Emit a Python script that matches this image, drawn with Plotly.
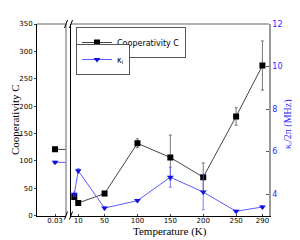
import plotly.graph_objects as go

# Data
temps = [0.03, 4, 10, 50, 100, 150, 200, 250, 290]
coop = [121, 34, 23, 40, 132, 106, 70, 181, 274]
coop_err = [4, 5, 3, 4, 8, 41, 26, 16, 45]
kappa = [5.5, 4.0, 5.1, 3.35, 3.7, 4.8, 4.1, 3.2, 3.4]
kappa_err = [0.05, 0.1, 0.1, 0.05, 0.05, 0.47, 0.83, 0.05, 0.05]
right_xticks = [10, 50, 100, 150, 200, 250, 290]

BLACK_LINE = "#444444"
BLUE_LINE = "#5a5aff"
BLUE = "#1010e0"

fig = go.Figure()

# left panel (broken axis, 0.03 K) -- include next point so connecting line leaves panel
fig.add_trace(go.Scatter(
    x=temps[:2], y=coop[:2], xaxis="x", yaxis="y",
    mode="lines+markers", line=dict(color=BLACK_LINE, width=1),
    marker=dict(symbol="square", size=6, color="black"),
    error_y=dict(type="data", array=coop_err[:2], color="#555", thickness=0.8, width=1.5),
    showlegend=False))
fig.add_trace(go.Scatter(
    x=temps[:2], y=kappa[:2], xaxis="x", yaxis="y3",
    mode="lines+markers", line=dict(color=BLUE_LINE, width=1),
    marker=dict(symbol="triangle-down", size=6, color=BLUE),
    error_y=dict(type="data", array=kappa_err[:2], color=BLUE_LINE, thickness=0.8, width=1.5),
    showlegend=False))

# right panel
fig.add_trace(go.Scatter(
    x=temps[1:], y=coop[1:], xaxis="x2", yaxis="y2",
    mode="lines+markers", line=dict(color=BLACK_LINE, width=1),
    marker=dict(symbol="square", size=6, color="black"),
    error_y=dict(type="data", array=coop_err[1:], color="#555", thickness=0.8, width=1.5),
    name="Cooperativity C", legend="legend"))
fig.add_trace(go.Scatter(
    x=temps[1:], y=kappa[1:], xaxis="x2", yaxis="y4",
    mode="lines+markers", line=dict(color=BLUE_LINE, width=1),
    marker=dict(symbol="triangle-down", size=6, color=BLUE),
    error_y=dict(type="data", array=kappa_err[1:], color=BLUE_LINE, thickness=0.8, width=1.5),
    name="κ<sub>i</sub>", legend="legend2"))

# page has an 8px body margin: figure coords = page coords - 8
OFF = 8
W, H = 292, 232
def px(x):
    return (x - OFF) / W
def py(y):
    return (H - (y - OFF)) / H

x0L, x1L, x0R, x1R = px(37), px(66), px(71), px(269)
yb, yt = py(215.5), py(24)

tickfont = dict(family="DejaVu Sans, sans-serif", size=7, color="black")
serif = "Liberation Serif, Times New Roman, serif"

fig.update_layout(
    width=W, height=H, margin=dict(l=0, r=0, t=0, b=0, autoexpand=False),
    paper_bgcolor="white", plot_bgcolor="white",
    xaxis=dict(domain=[x0L, x1L], range=[0.012, 0.041], tickvals=[0.03], ticktext=["0.03"],
               showgrid=False, zeroline=False, showline=True, linecolor="black", linewidth=1,
               ticks="inside", ticklen=2, tickfont=tickfont, anchor="y", automargin=False,
               ticklabelstandoff=-2),
    yaxis=dict(domain=[yb, yt], range=[0, 350], dtick=50, showgrid=False, zeroline=False,
               showline=True, linecolor="black", linewidth=1, ticks="outside", ticklen=2,
               tickfont=tickfont, anchor="x", automargin=False),
    yaxis3=dict(domain=[yb, yt], range=[3, 12], overlaying="y", anchor="x", showticklabels=False,
                showgrid=False, zeroline=False, showline=False, side="right", automargin=False),
    xaxis2=dict(domain=[x0R, x1R], range=[-1, 300], tickvals=right_xticks,
                showgrid=False, zeroline=False, showline=True, linecolor="black", linewidth=1,
                ticks="inside", ticklen=2, tickfont=tickfont, anchor="y2", automargin=False,
                ticklabelstandoff=-2),
    yaxis2=dict(domain=[yb, yt], range=[0, 350], showticklabels=False, showgrid=False,
                zeroline=False, showline=True, linecolor="black", linewidth=1, anchor="x2",
                automargin=False),
    yaxis4=dict(domain=[yb, yt], range=[3, 12], overlaying="y2", anchor="x2", side="right",
                tickvals=[4, 6, 8, 10, 12], showgrid=False, zeroline=False, showline=True,
                linecolor="#999999", linewidth=1.5, ticks="inside", ticklen=3, tickcolor="#555",
                tickfont=dict(family="DejaVu Sans, sans-serif", size=8, color="#2a2aff"),
                automargin=False),
    legend=dict(x=px(76), y=py(27), xanchor="left", yanchor="top",
                bordercolor="#555", borderwidth=1, bgcolor="white",
                font=dict(family="DejaVu Sans, sans-serif", size=8, color="black"),
                itemwidth=30, tracegroupgap=0),
    legend2=dict(x=px(76), y=py(44), xanchor="left", yanchor="top",
                 bordercolor="#555", borderwidth=1, bgcolor="white",
                 font=dict(family="DejaVu Sans, sans-serif", size=8, color="black"),
                 itemwidth=30),
    annotations=[
        dict(text="Temperature (K)", xref="paper", yref="paper", x=px(170), y=py(231),
             xanchor="center", yanchor="middle", showarrow=False,
             font=dict(family=serif, size=11, color="black")),
        dict(text="Cooperativity C", xref="paper", yref="paper", x=px(15), y=py(120),
             xanchor="center", yanchor="middle", showarrow=False, textangle=-90,
             font=dict(family=serif, size=11, color="black")),
        dict(text="κ<sub>i</sub>/2π (MHz)", xref="paper", yref="paper", x=px(288), y=py(124),
             xanchor="center", yanchor="middle", showarrow=False, textangle=-90,
             font=dict(family=serif, size=10, color="#2a2aff")),
    ],
)

# gray top / right spines and break marks
shapes = [
    dict(type="line", xref="paper", yref="paper", x0=x0L, x1=x1L, y0=yt, y1=yt,
         line=dict(color="#999999", width=1.5)),
    dict(type="line", xref="paper", yref="paper", x0=x0R, x1=x1R, y0=yt, y1=yt,
         line=dict(color="#999999", width=1.5)),
    dict(type="line", xref="paper", yref="paper", x0=x1L, x1=x1L, y0=yb, y1=yt,
         line=dict(color="#999999", width=1.5)),
]
for xc in (x1L, x0R):
    for yc in (yb, yt):
        shapes.append(dict(type="line", xref="paper", yref="paper",
                           x0=xc - 1.5 / W, x1=xc + 1.5 / W, y0=yc - 4 / H, y1=yc + 4 / H,
                           line=dict(color="black", width=1)))
fig.update_layout(shapes=shapes)

fig.write_html("out.html")
